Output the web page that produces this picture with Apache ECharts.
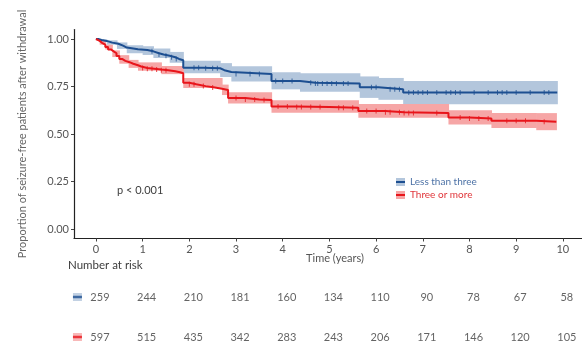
<!DOCTYPE html>
<html><head><meta charset="utf-8">
<script src="https://cdn.jsdelivr.net/npm/echarts@6/dist/echarts.min.js"></script>
<style>html,body{margin:0;padding:0;background:#fff}#c{width:582px;height:343px}</style>
</head><body><div id="c"></div>
<script>
// ---- data ----
const timeTicks = [0,1,2,3,4,5,6,7,8,9,10];
const propTicks = [0,0.25,0.5,0.75,1];
const groupNames = ['Less than three','Three or more'];
// Kaplan-Meier steps [time, survival]
const kmBlue = [[0,1.0],[0.05,0.995],[0.12,0.99],[0.23,0.981],[0.35,0.975],[0.48,0.965],[0.58,0.955],[0.66,0.946],[0.9,0.942],[1.1,0.935],[1.23,0.925],[1.35,0.918],[1.45,0.912],[1.58,0.904],[1.7,0.895],[1.78,0.888],[1.87,0.849],[2.3,0.846],[2.66,0.836],[2.75,0.826],[2.9,0.816],[3.76,0.779],[4.37,0.77],[4.7,0.766],[5.65,0.746],[6.05,0.736],[6.58,0.719],[9.88,0.719]];
const kmRed = [[0,1],[0.03,0.99],[0.08,0.98],[0.13,0.97],[0.2,0.958],[0.26,0.945],[0.32,0.935],[0.38,0.925],[0.44,0.91],[0.5,0.895],[0.56,0.885],[0.63,0.878],[0.72,0.87],[0.8,0.862],[0.9,0.855],[0.97,0.847],[1.1,0.843],[1.25,0.839],[1.4,0.836],[1.55,0.83],[1.7,0.825],[1.8,0.82],[1.87,0.77],[2.0,0.762],[2.15,0.752],[2.35,0.745],[2.55,0.738],[2.7,0.732],[2.83,0.69],[3.2,0.682],[3.5,0.679],[3.76,0.645],[4.3,0.642],[5.0,0.638],[5.62,0.621],[6.2,0.615],[6.6,0.61],[7.55,0.587],[8.0,0.582],[8.47,0.57],[9.43,0.565],[9.86,0.565]];
// confidence bands [time, lower, upper]
const ciBlue = [[0,0.998,1],[0.1,0.985,0.998],[0.23,0.97,0.993],[0.45,0.948,0.982],[0.66,0.925,0.967],[1.0,0.916,0.962],[1.23,0.9,0.95],[1.58,0.875,0.932],[1.87,0.82,0.885],[2.66,0.8,0.873],[2.9,0.776,0.857],[3.76,0.735,0.825],[4.37,0.722,0.82],[5.65,0.69,0.803],[6.05,0.68,0.795],[6.58,0.657,0.779],[9.88,0.656,0.779]];
const ciRed = [[0,0.995,1],[0.08,0.97,0.99],[0.2,0.945,0.97],[0.35,0.905,0.94],[0.5,0.87,0.915],[0.7,0.848,0.89],[0.9,0.833,0.877],[1.4,0.815,0.858],[1.87,0.742,0.795],[2.7,0.705,0.76],[2.83,0.66,0.72],[3.76,0.612,0.678],[5.62,0.585,0.658],[7.55,0.55,0.625],[8.47,0.532,0.61],[9.43,0.52,0.61],[9.86,0.517,0.612]];
// censoring times
const censorBlue = [1.2,1.35,1.5,1.62,1.72,2.1,2.2,2.35,2.5,2.6,3.0,3.3,3.5,3.85,4.0,4.2,4.6,4.7,4.75,4.85,4.95,5.05,5.15,5.3,5.4,5.9,6.0,6.3,6.4,6.5,6.7,6.8,6.9,7.0,7.1,7.3,7.5,7.6,7.7,7.8,8.1,8.4,8.6,8.7,8.8,9.0,9.3,9.6,9.7];
const censorRed = [1.0,1.1,1.2,1.3,1.4,1.5,2.0,2.1,2.3,2.5,3.0,3.2,3.4,3.6,3.9,4.1,4.3,4.4,4.6,4.8,5.2,5.3,5.5,5.8,6.0,6.2,6.3,6.5,6.6,6.7,6.8,7.3,7.8,8.0,8.2,8.4,8.8,9.0,9.2,9.6];
// number at risk
const riskBlue = [259,244,210,181,160,134,110,90,78,67,58];
const riskRed = [597,515,435,342,283,243,206,171,146,120,105];

// ---- styles ----
const blueLine = '#1d4f91', blueBand = '#b3c6dc';
const redLine = '#e8151b', redBand = '#f6a6a6';
const FONT = 'Lato';
const TXT = '#3c3c3c';

function stepAt(km, t){ let v = km[0][1]; for (const p of km){ if (p[0] <= t) v = p[1]; } return v; }
function iconUri(fill, line){
  const svg = "<svg xmlns='http://www.w3.org/2000/svg' width='18' height='16'><rect width='18' height='16' fill='"+fill+"'/><rect y='6' width='18' height='4' fill='"+line+"'/></svg>";
  return 'image://data:image/svg+xml;charset=utf-8,' + encodeURIComponent(svg);
}
function bandSeries(ci, color){
  const data = ci.map((d,i)=>[d[0], d[1], d[2], i+1<ci.length ? ci[i+1][0] : d[0]]);
  return {type:'custom', silent:true, z:1, encode:{x:[0,3], y:[1,2]}, data:data,
    renderItem:(params, api)=>{
      const t0 = api.value(0), lo = api.value(1), hi = api.value(2), t1 = api.value(3);
      if (t1 <= t0) return null;
      const p0 = api.coord([t0, hi]), p1 = api.coord([t1, lo]);
      return {type:'rect', shape:{x:p0[0], y:p0[1], width:p1[0]-p0[0]+0.6, height:p1[1]-p0[1]},
              style:{fill:color}};
    }};
}

const XMIN = -0.47, XMAX = 10.41;
const chart = echarts.init(document.getElementById('c'), null, {renderer:'canvas'});
chart.setOption({
  animation:false,
  textStyle:{fontFamily:FONT},
  title:[
    {text:'p < 0.001', left:117, top:185, padding:0, textStyle:{fontSize:11, fontWeight:'normal', color:TXT, fontFamily:FONT}},
    {text:'Number at risk', left:68, top:259, padding:0, textStyle:{fontSize:11.5, fontWeight:'normal', color:TXT, fontFamily:FONT}}
  ],
  legend:{
    orient:'vertical', left:391, top:171, itemWidth:9, itemHeight:8, itemGap:1,
    textStyle:{fontSize:10, fontFamily:FONT, lineHeight:12},
    data:[
      {name:groupNames[0], icon:iconUri(blueBand, blueLine), textStyle:{color:'#4d72a6'}},
      {name:groupNames[1], icon:iconUri(redBand, redLine), textStyle:{color:'#e0353a'}}
    ]
  },
  grid:[
    {left:74, right:0, top:29.5, bottom:104.5, containLabel:false},
    {left:74, right:0, top:297, height:40, containLabel:false}
  ],
  xAxis:[
    {type:'value', gridIndex:0, min:XMIN, max:XMAX,
     axisLine:{show:true, onZero:false, lineStyle:{color:'#222', width:1.2}},
     axisTick:{show:true, length:3, customValues:timeTicks, lineStyle:{color:'#444'}},
     axisLabel:{customValues:timeTicks, margin:5, fontSize:11, color:'#555', fontFamily:FONT},
     splitLine:{show:false},
     name:'Time (years)', nameLocation:'middle', nameGap:14, nameMoveOverlap:false,
     nameTextStyle:{fontSize:11, color:'#555', fontFamily:FONT, padding:[0,0,0,14]}},
    {type:'value', gridIndex:1, min:XMIN, max:XMAX, show:false}
  ],
  yAxis:[
    {type:'value', gridIndex:0, min:-0.05, max:1.05,
     axisLine:{show:true, onZero:false, lineStyle:{color:'#222', width:1.2}},
     axisTick:{show:true, length:3, customValues:propTicks, lineStyle:{color:'#444'}},
     axisLabel:{customValues:propTicks, margin:5, fontSize:11, color:'#555', fontFamily:FONT,
       formatter:v=>v.toFixed(2)},
     splitLine:{show:false},
     name:'Proportion of seizure-free patients after withdrawal', nameLocation:'middle', nameGap:46, nameMoveOverlap:false,
     nameTextStyle:{fontSize:11, color:'#666', fontFamily:FONT}},
    {type:'value', gridIndex:1, min:0, max:1, show:false}
  ],
  series:[
    bandSeries(ciBlue, blueBand),
    bandSeries(ciRed, redBand),
    {name:groupNames[0], type:'line', step:'end', data:kmBlue, showSymbol:false, lineStyle:{color:blueLine, width:2}, itemStyle:{color:blueLine}, z:3},
    {name:groupNames[1], type:'line', step:'end', data:kmRed, showSymbol:false, lineStyle:{color:redLine, width:2}, itemStyle:{color:redLine}, z:4},
    {type:'scatter', data:censorBlue.map(t=>[t, stepAt(kmBlue,t)]), symbol:'rect', symbolSize:[1,5], itemStyle:{color:blueLine}, silent:true, z:3},
    {type:'scatter', data:censorRed.map(t=>[t, stepAt(kmRed,t)]), symbol:'rect', symbolSize:[1,5], itemStyle:{color:redLine}, silent:true, z:4},
    // risk table
    {type:'scatter', xAxisIndex:1, yAxisIndex:1, data:timeTicks.map((t,i)=>[t,1,riskBlue[i]]), symbolSize:2, itemStyle:{color:'rgba(0,0,0,0)'}, silent:true,
     label:{show:true, position:'inside', offset:[4,0], formatter:p=>String(p.value[2]), fontSize:11, color:TXT, fontFamily:FONT}},
    {type:'scatter', xAxisIndex:1, yAxisIndex:1, data:timeTicks.map((t,i)=>[t,0,riskRed[i]]), symbolSize:2, itemStyle:{color:'rgba(0,0,0,0)'}, silent:true,
     label:{show:true, position:'inside', offset:[4,0], formatter:p=>String(p.value[2]), fontSize:11, color:TXT, fontFamily:FONT}},
    {type:'scatter', xAxisIndex:1, yAxisIndex:1, data:[[-0.396,1]], symbol:'rect', symbolSize:[9,8], itemStyle:{color:blueBand}, silent:true},
    {type:'scatter', xAxisIndex:1, yAxisIndex:1, data:[[-0.396,1]], symbol:'rect', symbolSize:[9,2.5], itemStyle:{color:blueLine}, silent:true, z:3},
    {type:'scatter', xAxisIndex:1, yAxisIndex:1, data:[[-0.396,0]], symbol:'rect', symbolSize:[9,8], itemStyle:{color:redBand}, silent:true},
    {type:'scatter', xAxisIndex:1, yAxisIndex:1, data:[[-0.396,0]], symbol:'rect', symbolSize:[9,2.5], itemStyle:{color:redLine}, silent:true, z:3}
  ]
});
</script></body></html>
